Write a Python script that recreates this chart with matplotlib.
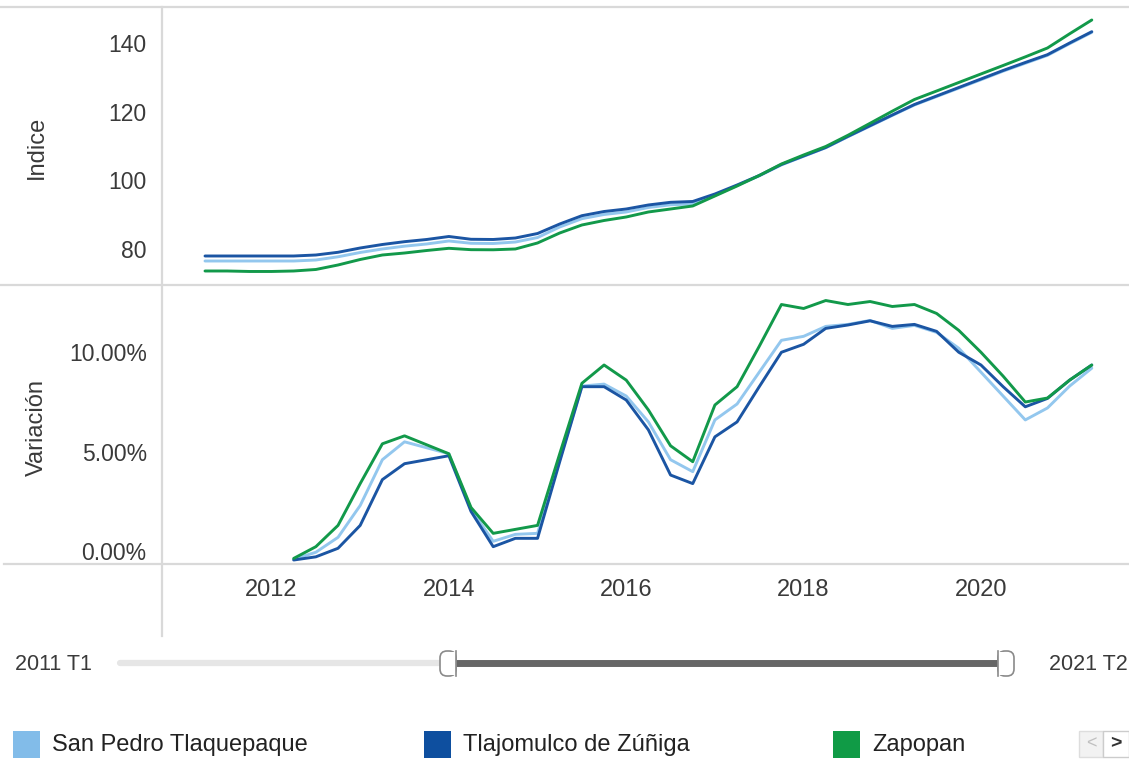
import matplotlib
matplotlib.use("Agg")
import matplotlib.pyplot as plt
from matplotlib.patches import Rectangle, FancyBboxPatch
import numpy as np

# ---------------- data ----------------
quarters = [f"{y} T{q}" for y in range(2011, 2022) for q in range(1, 5)][:41]

series_names = ["San Pedro Tlaquepaque", "Tlajomulco de Zúñiga", "Zapopan"]

indice_tlaquepaque = [76.5, 76.5, 76.5, 76.5, 76.5, 76.79, 77.73, 78.98, 80.0, 80.82,
                      81.46, 82.33, 81.66, 81.6, 82.03, 83.34, 86.41, 88.83, 90.05, 90.78,
                      92.09, 92.87, 93.11, 95.58, 98.49, 101.3, 104.5, 107.0, 109.5, 112.7,
                      115.8, 118.9, 121.95, 124.4, 126.85, 129.3, 131.8, 134.1, 136.4, 139.8,
                      143.1]
indice_tlajomulco = [77.96, 77.96, 77.96, 77.96, 77.96, 78.25, 79.04, 80.29, 81.31, 82.13,
                     82.77, 83.64, 82.83, 82.77, 83.2, 84.51, 87.28, 89.7, 90.92, 91.65,
                     92.82, 93.6, 93.84, 96.02, 98.64, 101.41, 104.61, 107.09, 109.57, 112.8,
                     115.92, 119.03, 122.09, 124.57, 127.04, 129.52, 132.0, 134.33, 136.6, 140.0,
                     143.3]
indice_zapopan = [73.59, 73.59, 73.45, 73.45, 73.59, 74.03, 75.34, 76.94, 78.25, 78.83,
                  79.56, 80.2, 79.8, 79.77, 80.0, 81.75, 84.66, 86.99, 88.3, 89.32,
                  90.78, 91.65, 92.53, 95.44, 98.35, 101.41, 104.76, 107.38, 109.86, 113.12,
                  116.62, 120.14, 123.55, 126.02, 128.5, 130.98, 133.45, 135.96, 138.55, 142.69,
                  146.71]

nan = float("nan")
var_tlaquepaque = [nan, nan, nan, nan, -0.4, -0.05, 0.7, 2.3, 4.6, 5.5,
                   5.2, 4.9, 2.1, 0.5, 0.85, 0.9, 4.6, 8.3, 8.4, 7.8,
                   6.5, 4.6, 4.0, 6.6, 7.4, 9.0, 10.6, 10.8, 11.3, 11.4,
                   11.6, 11.2, 11.35, 11.0, 10.2, 9.0, 7.8, 6.6, 7.2, 8.3,
                   9.2]
var_tlajomulco = [nan, nan, nan, nan, -0.44, -0.28, 0.15, 1.3, 3.6, 4.4,
                  4.6, 4.8, 2.0, 0.23, 0.65, 0.65, 4.5, 8.27, 8.27, 7.6,
                  6.1, 3.83, 3.4, 5.75, 6.5, 8.27, 10.0, 10.4, 11.2, 11.37,
                  11.58, 11.3, 11.4, 11.05, 10.0, 9.36, 8.27, 7.26, 7.68, 8.6,
                  9.36]
var_zapopan = [nan, nan, nan, nan, -0.36, 0.23, 1.3, 3.4, 5.4, 5.8,
               5.35, 4.9, 2.2, 0.9, 1.1, 1.3, 4.9, 8.44, 9.36, 8.6,
               7.1, 5.3, 4.5, 7.35, 8.27, 10.3, 12.4, 12.2, 12.6, 12.4,
               12.55, 12.3, 12.4, 11.95, 11.1, 10.0, 8.8, 7.5, 7.7, 8.6,
               9.36]

year_ticks = [2012, 2014, 2016, 2018, 2020]
indice_ticks = [80, 100, 120, 140]
var_ticks = [0, 5, 10]
range_labels = ["2011 T1", "2021 T2"]

# ---------------- style ----------------
plt.rcParams["font.family"] = ["Liberation Sans", "DejaVu Sans"]
line_colors = ["#93c7ee", "#1b55a3", "#12994a"]
legend_colors = ["#82bce9", "#0e4f9f", "#109b46"]
text_color = "#3a3a3a"
sep_color = "#d9d9d9"

W, H = 1129, 759
fig = plt.figure(figsize=(W / 100, H / 100), dpi=100)

# quarter-end positions in decimal years
xpos = [int(q.split(" T")[0]) + int(q.split(" T")[1]) / 4 for q in quarters]

def fx(px):
    return px / W

def fy(py):
    return 1 - py / H

ax1 = fig.add_axes([fx(162), fy(285), 1 - fx(162), (285 - 7) / H])
ax2 = fig.add_axes([fx(162), fy(564), 1 - fx(162), (564 - 285) / H])

px_per_year = 88.68
xlim = (2011.25 - (205 - 162) / px_per_year, 2011.25 + (W - 205) / px_per_year)

for ax in (ax1, ax2):
    for s in ax.spines.values():
        s.set_visible(False)
    ax.set_facecolor("none")
    ax.set_xlim(*xlim)
    ax.tick_params(length=0, labelsize=16.5, labelcolor=text_color)
    ax.tick_params(axis="y", pad=11)

ax1.set_ylim(69.51, 150.49)
ax2.set_ylim(-0.64, 13.38)

for vals, c in zip([indice_tlaquepaque, indice_tlajomulco, indice_zapopan], line_colors):
    ax1.plot(xpos, vals, color=c, lw=2.1, solid_joinstyle="round", solid_capstyle="round")
for vals, c in zip([var_tlaquepaque, var_tlajomulco, var_zapopan], line_colors):
    ax2.plot(xpos, vals, color=c, lw=2.1, solid_joinstyle="round", solid_capstyle="round")

ax1.set_yticks(indice_ticks)
ax1.set_yticklabels([str(t) for t in indice_ticks])
ax1.set_xticks([])
ax2.set_yticks(var_ticks)
ax2.set_yticklabels([f"{t:.2f}%" for t in var_ticks])
ax2.set_xticks(year_ticks)
ax2.set_xticklabels([str(y) for y in year_ticks])
ax2.tick_params(axis="x", pad=11, labelsize=17)

# ---------------- overlay (pixel coords) ----------------
ov = fig.add_axes([0, 0, 1, 1], zorder=5)
ov.set_xlim(0, W)
ov.set_ylim(H, 0)
ov.axis("off")
ov.set_facecolor("none")

# separators
ov.plot([0, W], [7, 7], color=sep_color, lw=1.6)
ov.plot([0, W], [285, 285], color=sep_color, lw=1.6)
ov.plot([4, W], [564, 564], color=sep_color, lw=1.6)
ov.plot([162, 162], [7, 636], color=sep_color, lw=1.6)

ov.text(37, 147, "Indice", rotation=90, ha="center", va="center", fontsize=17, color=text_color)
ov.text(37, 427, "Variación", rotation=90, ha="center", va="center", fontsize=17, color=text_color)

# range slider
ov.plot([120, 447], [663, 663], color="#e6e6e6", lw=4.5, solid_capstyle="round")
ov.plot([447, 1005], [663, 663], color="#666666", lw=5.0, solid_capstyle="butt")
# handles: left rounded on the left side, right rounded on the right side
ov.add_patch(FancyBboxPatch((440, 651), 16, 25, boxstyle="round,pad=0,rounding_size=7",
                            facecolor="white", edgecolor="#8a8a8a", lw=1.2, zorder=6))
ov.add_patch(Rectangle((450, 651.6), 6, 23.8, facecolor="white", edgecolor="none", zorder=7))
ov.plot([456, 456], [651, 676], color="#8a8a8a", lw=1.2, zorder=8)
ov.add_patch(FancyBboxPatch((998, 651), 16, 25, boxstyle="round,pad=0,rounding_size=7",
                            facecolor="white", edgecolor="#8a8a8a", lw=1.2, zorder=6))
ov.add_patch(Rectangle((998, 651.6), 6, 23.8, facecolor="white", edgecolor="none", zorder=7))
ov.plot([998, 998], [651, 676], color="#8a8a8a", lw=1.2, zorder=8)

ov.text(15, 664, range_labels[0], ha="left", va="center", fontsize=15.5, color=text_color)
ov.text(1049, 664, range_labels[1], ha="left", va="center", fontsize=15.5, color=text_color)

# legend
legend_x = [13, 424, 833]
for lx, name, c in zip(legend_x, series_names, legend_colors):
    ov.add_patch(Rectangle((lx, 731), 27, 27, facecolor=c, edgecolor="none"))
    ov.text(lx + 39, 745, name, ha="left", va="center", fontsize=17, color="#222222")

# paging control
ov.add_patch(Rectangle((1079, 731), 24, 26, facecolor="#f2f2f2", edgecolor="#dddddd", lw=1))
ov.add_patch(Rectangle((1103, 731), 26, 26, facecolor="#ffffff", edgecolor="#cccccc", lw=1))
ov.text(1091, 744, "<", ha="center", va="center", fontsize=13, color="#c0c0c0")
ov.text(1116, 744, ">", ha="center", va="center", fontsize=14, color="#333333", fontweight="bold")

fig.savefig("out.png", dpi=100)
